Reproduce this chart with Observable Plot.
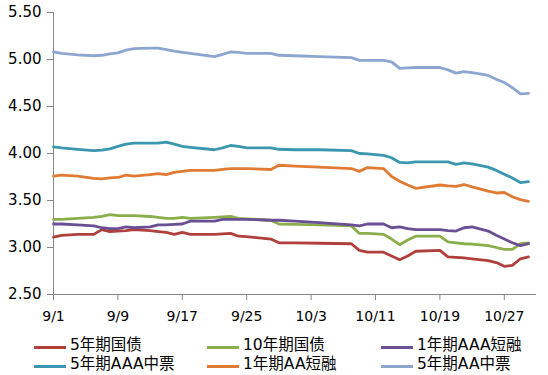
<!DOCTYPE html>
<html>
<head>
<meta charset="utf-8">
<script src="https://cdn.jsdelivr.net/npm/d3@7"></script>
<script src="https://cdn.jsdelivr.net/npm/@observablehq/plot@0.6"></script>
<style>
  html, body { margin: 0; padding: 0; background: #fff; }
  #chart { width: 548px; }
  .legend { display: grid; grid-template-columns: 173px 174px 167px; padding-left: 34px; padding-top: 11px;
    font-family: "DejaVu Sans", "Noto Sans CJK SC", sans-serif; font-size: 15.5px; line-height: 19px; color: #000; }
  .item { display: flex; align-items: center; white-space: nowrap; height: 19px; }
  .sw { display: inline-block; width: 32px; height: 3px; margin-right: 4px; margin-top: 3px; }
</style>
</head>
<body>
<div id="chart"></div>
<script>
const year = 2016;
const dates = ["9/1","9/2","9/4","9/6","9/7","9/8","9/9","9/10","9/11","9/13","9/14","9/15","9/16","9/17","9/18",
  "9/21","9/22","9/23","9/24","9/25","9/28","9/29","10/1","10/4","10/8","10/9","10/10","10/12","10/13","10/14",
  "10/15","10/16","10/19","10/20","10/21","10/22","10/23","10/25","10/26","10/27","10/28","10/29","10/30"];

const seriesNames = ["5年期国债","10年期国债","1年期AAA短融","5年期AAA中票","1年期AA短融","5年期AA中票"];
const seriesColors = ["#B0403C","#8AAE4A","#6B4F95","#3A97AF","#E07B34","#8DA6D0"];

const gov5y = [3.11,3.13,3.14,3.14,3.19,3.17,3.175,3.18,3.19,3.18,3.17,3.16,3.14,3.16,3.14,3.14,3.145,3.15,3.12,3.115,3.09,3.05,3.05,3.045,3.04,2.97,2.95,2.95,2.91,2.87,2.91,2.96,2.97,2.90,2.895,2.89,2.88,2.86,2.84,2.80,2.81,2.88,2.90];
const gov10y = [3.30,3.30,3.31,3.32,3.33,3.35,3.34,3.34,3.34,3.33,3.32,3.31,3.31,3.32,3.31,3.32,3.325,3.33,3.31,3.305,3.29,3.25,3.245,3.24,3.23,3.15,3.15,3.14,3.09,3.03,3.08,3.12,3.12,3.06,3.05,3.04,3.035,3.02,3.00,2.98,2.98,3.04,3.05];
const cp1yAAA = [3.25,3.25,3.24,3.23,3.21,3.20,3.20,3.22,3.21,3.22,3.24,3.24,3.245,3.25,3.28,3.28,3.30,3.30,3.30,3.30,3.29,3.29,3.28,3.265,3.24,3.23,3.25,3.25,3.21,3.22,3.20,3.19,3.19,3.18,3.175,3.21,3.22,3.175,3.13,3.09,3.05,3.02,3.04];
const mtn5yAAA = [4.07,4.06,4.045,4.03,4.035,4.05,4.075,4.10,4.11,4.11,4.11,4.12,4.10,4.075,4.065,4.04,4.06,4.085,4.075,4.06,4.06,4.045,4.04,4.04,4.03,4.00,3.995,3.98,3.955,3.905,3.90,3.91,3.91,3.91,3.885,3.90,3.89,3.855,3.82,3.78,3.74,3.69,3.70];
const cp1yAA = [3.76,3.77,3.76,3.735,3.73,3.74,3.745,3.77,3.76,3.775,3.785,3.775,3.80,3.81,3.82,3.82,3.83,3.84,3.84,3.84,3.83,3.875,3.865,3.855,3.84,3.81,3.85,3.84,3.755,3.705,3.665,3.63,3.665,3.655,3.65,3.67,3.645,3.60,3.58,3.585,3.54,3.51,3.49];
const mtn5yAA = [5.08,5.065,5.05,5.04,5.045,5.06,5.07,5.10,5.115,5.12,5.12,5.105,5.09,5.075,5.065,5.03,5.055,5.08,5.075,5.065,5.065,5.045,5.04,5.03,5.02,4.99,4.99,4.99,4.975,4.905,4.91,4.915,4.915,4.89,4.855,4.87,4.86,4.83,4.79,4.755,4.70,4.635,4.64];

const yTicks = [2.5, 3.0, 3.5, 4.0, 4.5, 5.0, 5.5];
const xTickLabels = ["9/1","9/9","9/17","9/25","10/3","10/11","10/19","10/27"];
const xEnd = "10/31";

const parse = s => { const [m, d] = s.split("/").map(Number); return new Date(year, m - 1, d); };
const allValues = [gov5y, gov10y, cp1yAAA, mtn5yAAA, cp1yAA, mtn5yAA];
const rows = seriesNames.flatMap((name, i) =>
  allValues[i].map((v, j) => ({date: parse(dates[j]), value: v, series: name})));

const chart = Plot.plot({
  width: 548,
  height: 325,
  marginLeft: 53,
  marginRight: 12,
  marginTop: 12,
  marginBottom: 31,
  style: {fontFamily: "DejaVu Sans, sans-serif", fontSize: "14px", color: "#000", background: "#fff"},
  x: {type: "time", domain: [parse(xTickLabels[0]), parse(xEnd)]},
  y: {domain: [yTicks[0], yTicks[yTicks.length - 1]]},
  color: {domain: seriesNames, range: seriesColors},
  marks: [
    Plot.axisY({ticks: yTicks, tickFormat: d => d.toFixed(2), tickSize: 6, tickPadding: 6, fontSize: 15, stroke: "#868686", label: null}),
    Plot.axisX({ticks: xTickLabels.map(parse), tickFormat: d => `${d.getMonth() + 1}/${d.getDate()}`, tickSize: 6, tickPadding: 11, fontSize: 14, stroke: "#868686", label: null}),
    Plot.ruleX([parse(xTickLabels[0])], {stroke: "#868686"}),
    Plot.ruleY([yTicks[0]], {stroke: "#868686"}),
    Plot.line(rows, {x: "date", y: "value", z: "series", stroke: "series", strokeWidth: 2.8, strokeLinejoin: "round"})
  ]
});
document.getElementById("chart").appendChild(chart);

const legend = document.createElement("div");
legend.className = "legend";
seriesNames.forEach((name, i) => {
  const item = document.createElement("div");
  item.className = "item";
  const sw = document.createElement("span");
  sw.className = "sw";
  sw.style.background = seriesColors[i];
  const t = document.createElement("span");
  t.textContent = name;
  item.appendChild(sw);
  item.appendChild(t);
  legend.appendChild(item);
});
document.getElementById("chart").appendChild(legend);
</script>
</body>
</html>
